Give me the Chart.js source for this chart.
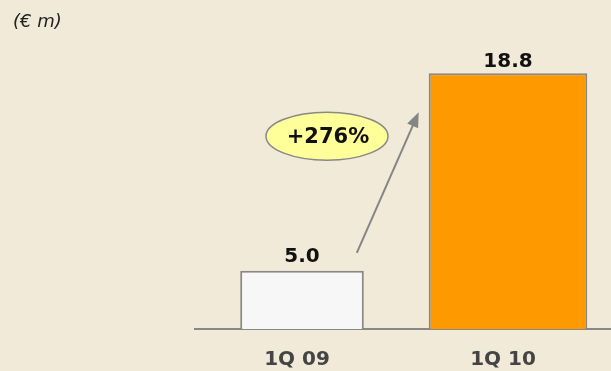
<!DOCTYPE html>
<html>
<head>
    <title>Quarterly comparison</title>
    <script src="https://cdn.jsdelivr.net/npm/chart.js"></script>
    <style>
        body { margin: 0; background: #F1EAD8; }
        #wrap { position: relative; width: 611px; height: 371px; }
        #unit { position: absolute; left: 13px; top: 10px; font: italic 18px 'DejaVu Sans', sans-serif; color: #222; }
    </style>
</head>
<body>
<div id="wrap">
    <div id="unit">(€ m)</div>
    <canvas id="chart" width="611" height="371"></canvas>
</div>
<script>
const quarters = ['1Q 09', '1Q 10'];
const values = [5.0, 18.8];
const growthLabel = '+276%';

// value labels above bars + growth arrow and bubble
const annotate = {
    id: 'annotate',
    afterDatasetsDraw(chart) {
        const ctx = chart.ctx;
        const area = chart.chartArea;
        const b1 = chart.getDatasetMeta(0).data[0];
        const b2 = chart.getDatasetMeta(1).data[1];
        ctx.save();
        // axis line runs a bit past the plot area on the left
        ctx.strokeStyle = '#888';
        ctx.lineWidth = 2;
        ctx.beginPath();
        ctx.moveTo(area.left - 5, area.bottom);
        ctx.lineTo(area.left, area.bottom);
        ctx.stroke();

        ctx.font = 'bold 20px "DejaVu Sans", sans-serif';
        ctx.fillStyle = '#111';
        ctx.textAlign = 'center';
        ctx.textBaseline = 'alphabetic';
        ctx.fillText(values[0].toFixed(1), b1.x, b1.y - 9);
        ctx.fillText(values[1].toFixed(1), b2.x, b2.y - 6);

        // arrow
        const x0 = b1.x + b1.width / 2 - 7, y0 = b1.y - 18;
        const x1 = b2.x - b2.width / 2 - 10, y1 = b2.y + 39;
        const ang = Math.atan2(y1 - y0, x1 - x0);
        ctx.strokeStyle = '#858585';
        ctx.fillStyle = '#858585';
        ctx.lineWidth = 2;
        ctx.beginPath();
        ctx.moveTo(x0, y0);
        ctx.lineTo(x1 - 10 * Math.cos(ang), y1 - 10 * Math.sin(ang));
        ctx.stroke();
        ctx.beginPath();
        ctx.moveTo(x1, y1);
        ctx.lineTo(x1 - 15 * Math.cos(ang) + 6 * Math.sin(ang), y1 - 15 * Math.sin(ang) - 6 * Math.cos(ang));
        ctx.lineTo(x1 - 15 * Math.cos(ang) - 6 * Math.sin(ang), y1 - 15 * Math.sin(ang) + 6 * Math.cos(ang));
        ctx.closePath();
        ctx.fill();

        // bubble
        const cx = b1.x + 25, cy = b2.y + 63;
        ctx.beginPath();
        ctx.ellipse(cx, cy, 61, 24, 0, 0, Math.PI * 2);
        ctx.fillStyle = '#FFFF99';
        ctx.fill();
        ctx.lineWidth = 1.5;
        ctx.strokeStyle = '#888';
        ctx.stroke();
        ctx.fillStyle = '#111';
        ctx.font = 'bold 21px "DejaVu Sans", sans-serif';
        ctx.textBaseline = 'middle';
        ctx.fillText(growthLabel, cx + 1, cy + 1);
        ctx.restore();
    }
};

new Chart(document.getElementById('chart').getContext('2d'), {
    type: 'bar',
    data: {
        labels: quarters,
        datasets: [
            { data: [values[0], null], backgroundColor: '#F7F7F7', borderColor: '#888', borderWidth: 2, barPercentage: 0.6, categoryPercentage: 1 },
            { data: [null, values[1]], backgroundColor: '#FF9900', borderColor: '#888', borderWidth: 2, barPercentage: 0.77, categoryPercentage: 1 }
        ]
    },
    options: {
        responsive: false,
        animation: false,
        events: [],
        layout: { padding: { left: 199, right: 0, top: 56, bottom: 0 } },
        plugins: { legend: { display: false }, tooltip: { enabled: false } },
        scales: {
            x: {
                stacked: true,
                grid: { display: false },
                border: { display: true, color: '#888', width: 2 },
                ticks: { color: '#444', font: { family: 'DejaVu Sans', size: 20, weight: 'bold' }, padding: 11, labelOffset: -5 },
                afterFit: s => { s.height = 42; }
            },
            y: { display: false, min: 0.94, max: 20 }
        }
    },
    plugins: [annotate]
});
</script>
</body>
</html>
